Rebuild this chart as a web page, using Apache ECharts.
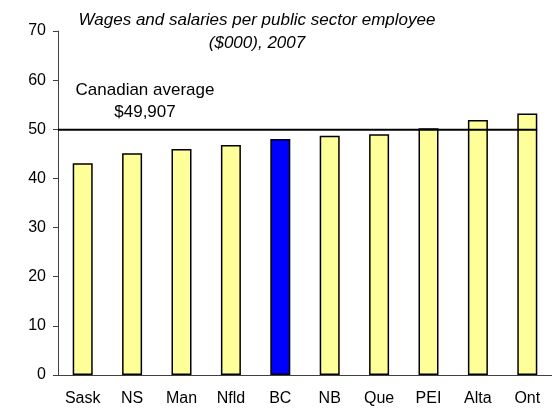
<!DOCTYPE html>
<html>
<head>
<meta charset="utf-8">
<style>html,body{margin:0;padding:0;background:#fff}#c{width:552px;height:409px}</style>
<script src="https://cdn.jsdelivr.net/npm/echarts@6/dist/echarts.min.js"></script>
</head>
<body>
<div id="c"></div>
<script>
var categories = ['Sask', 'NS', 'Man', 'Nfld', 'BC', 'NB', 'Que', 'PEI', 'Alta', 'Ont'];
var values = [43.1, 45.1, 46.0, 46.8, 48.0, 48.7, 49.0, 50.2, 51.9, 53.2];
var highlight = 'BC';
var canadianAverage = 49.907;
var yTicks = [0, 10, 20, 30, 40, 50, 60, 70];
var titleLines = ['Wages and salaries per public sector employee', '($000), 2007'];
var avgLabel = ['Canadian average', '$49,907'];

var font = '"Liberation Sans", Arial, sans-serif';
var chart = echarts.init(document.getElementById('c'));
var barData = categories.map(function (c, i) {
  return {
    value: values[i],
    itemStyle: { color: c === highlight ? '#0000FF' : '#FFFF99' }
  };
});
var lineEnd = categories.length - 0.5 + 0.2;
chart.setOption({
  animation: false,
  grid: { left: 58, right: 0, top: 31, bottom: 34 },
  xAxis: [{
    type: 'category',
    data: categories,
    axisLine: { lineStyle: { color: '#404040', width: 1 } },
    axisTick: { length: 5, lineStyle: { color: '#404040' } },
    axisLabel: { color: '#000', fontFamily: font, fontSize: 16, margin: 16 }
  }, {
    type: 'value', min: 0, max: categories.length, show: false
  }],
  yAxis: {
    type: 'value', min: yTicks[0], max: yTicks[yTicks.length - 1], interval: 10,
    axisLine: { show: true, lineStyle: { color: '#404040', width: 1 } },
    axisTick: { show: true, length: 5, lineStyle: { color: '#404040' } },
    splitLine: { show: false },
    axisLabel: { color: '#000', fontFamily: font, fontSize: 16, margin: 12 }
  },
  series: [{
    type: 'bar',
    data: barData,
    barWidth: 20,
    itemStyle: { borderColor: '#000', borderWidth: 1.5 }
  }, {
    type: 'line',
    xAxisIndex: 1,
    data: [[0, canadianAverage], [lineEnd, canadianAverage]],
    symbol: 'none',
    lineStyle: { color: '#000', width: 2 },
    z: 5
  }],
  graphic: [{
    type: 'text', x: 257, y: 9,
    style: {
      text: titleLines.join('\n'), align: 'center', verticalAlign: 'top',
      font: 'italic 17px ' + font, lineHeight: 23, fill: '#000'
    }
  }, {
    type: 'text', x: 145, y: 79,
    style: {
      text: avgLabel.join('\n'), align: 'center', verticalAlign: 'top',
      font: '17px ' + font, lineHeight: 22, fill: '#000'
    }
  }]
});
</script>
</body>
</html>
